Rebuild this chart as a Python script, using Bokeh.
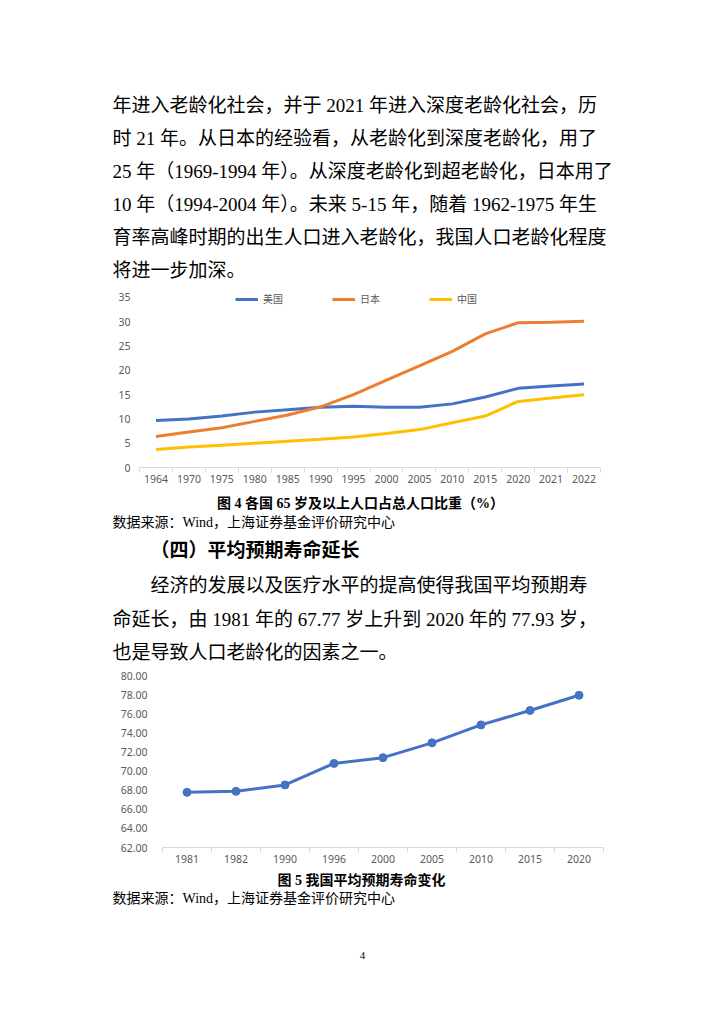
from bokeh.plotting import figure
from bokeh.models import Range1d, FixedTicker, Legend, LegendItem, NumeralTickFormatter
from bokeh.core.properties import value
from bokeh.embed import file_html
from bokeh.resources import INLINE

# ---------------- data ----------------
para1 = [
    "年进入老龄化社会，并于 2021 年进入深度老龄化社会，历",
    "时 21 年。从日本的经验看，从老龄化到深度老龄化，用了",
    "25 年（1969-1994 年）。从深度老龄化到超老龄化，日本用了",
    "10 年（1994-2004 年）。未来 5-15 年，随着 1962-1975 年生",
    "育率高峰时期的出生人口进入老龄化，我国人口老龄化程度",
    "将进一步加深。",
]
caption1 = "图 4 各国 65 岁及以上人口占总人口比重（%）"
source_text = "数据来源：Wind，上海证券基金评价研究中心"
heading = "（四）平均预期寿命延长"
para2 = [
    "经济的发展以及医疗水平的提高使得我国平均预期寿",
    "命延长，由 1981 年的 67.77 岁上升到 2020 年的 77.93 岁，",
    "也是导致人口老龄化的因素之一。",
]
caption2 = "图 5 我国平均预期寿命变化"
page_no = "4"

years1 = ["1964", "1970", "1975", "1980", "1985", "1990", "1995", "2000",
          "2005", "2010", "2015", "2020", "2021", "2022"]
us = [9.7, 10.0, 10.6, 11.4, 11.9, 12.4, 12.6, 12.4, 12.4, 13.1, 14.5, 16.3, 16.8, 17.2]
japan = [6.4, 7.3, 8.2, 9.5, 10.8, 12.5, 15.0, 18.0, 20.9, 23.9, 27.5, 29.8, 29.9, 30.1]
china = [3.7, 4.2, 4.6, 5.0, 5.4, 5.8, 6.3, 7.0, 7.8, 9.2, 10.6, 13.6, 14.3, 15.0]
series_names = ["美国", "日本", "中国"]
y1_ticks = [0, 5, 10, 15, 20, 25, 30, 35]

years2 = ["1981", "1982", "1990", "1996", "2000", "2005", "2010", "2015", "2020"]
life = [67.77, 67.88, 68.55, 70.80, 71.40, 72.95, 74.83, 76.34, 77.93]
y2_ticks = [62, 64, 66, 68, 70, 72, 74, 76, 78, 80]

# ---------------- styles ----------------
W = 724
BODY_FONT = "Liberation Serif, Noto Sans CJK SC"
TICK_FONT = "Noto Sans, Noto Sans CJK SC"
GRAY = "#595959"
AXIS_GRAY = "#D9D9D9"
COLORS = ["#4472C4", "#ED7D31", "#FFC000"]


def text_fig(h):
    p = figure(width=W, height=h, x_range=Range1d(0, W), y_range=Range1d(h, 0),
               x_axis_location=None, y_axis_location=None, min_border=0,
               min_border_left=0, min_border_right=0, min_border_top=0, min_border_bottom=0,
               outline_line_color=None, toolbar_location=None, output_backend="svg")
    p.grid.visible = False
    return p


def add_text(p, xs, ys, texts, size, bold=False, align="left", font=BODY_FONT, color="black"):
    p.text(x=xs, y=ys, text=texts, text_font=value(font), text_font_size=value(size),
           text_font_style="bold" if bold else "normal", text_align=align,
           text_baseline="middle", text_color=color)


def style_axes(p, y_standoff):
    p.grid.visible = False
    xa = p.xaxis[0]
    xa.axis_line_color = AXIS_GRAY
    xa.major_tick_out = 0
    xa.major_tick_in = 0
    xa.minor_tick_out = 5
    xa.minor_tick_in = 0
    xa.minor_tick_line_color = AXIS_GRAY
    xa.major_label_standoff = 2
    xa.major_label_text_color = GRAY
    xa.major_label_text_font = TICK_FONT
    xa.major_label_text_font_size = "10.5px"
    ya = p.yaxis[0]
    ya.axis_line_color = None
    ya.major_tick_line_color = None
    ya.minor_tick_line_color = None
    ya.major_tick_out = 0
    ya.major_label_standoff = y_standoff
    ya.major_label_text_color = GRAY
    ya.major_label_text_font = TICK_FONT
    ya.major_label_text_font_size = "10.5px"


# ---------------- top text ----------------
hA = 285
pA = text_fig(hA)
add_text(pA, [112] * len(para1), [105 + 33 * i for i in range(len(para1))], para1, "19px")

# ---------------- chart 1 ----------------
n1 = len(years1)
x1 = [i + 0.5 for i in range(n1)]
p1 = figure(width=W, height=205, x_range=Range1d(0, n1), y_range=Range1d(0, 36.44),
            min_border_left=139, min_border_right=124, min_border_top=5, min_border_bottom=23,
            outline_line_color=None, toolbar_location=None, output_backend="svg")
style_axes(p1, 9)
p1.xaxis[0].ticker = FixedTicker(ticks=x1, minor_ticks=list(range(n1 + 1)))
p1.xaxis[0].major_label_overrides = {x: y for x, y in zip(x1, years1)}
p1.yaxis[0].ticker = FixedTicker(ticks=y1_ticks)

items = []
for name, vals, c in zip(series_names, [us, japan, china], COLORS):
    r = p1.line(x1, vals, line_color=c, line_width=3)
    items.append(LegendItem(label=name, renderers=[r]))
leg = Legend(items=items, orientation="horizontal", location=(96, 161),
             padding=0, margin=0, spacing=49, glyph_width=23, glyph_height=12,
             label_height=12, label_standoff=5, label_text_font=TICK_FONT,
             label_text_font_size="10px", label_text_color=GRAY,
             border_line_color=None, background_fill_alpha=0)
p1.add_layout(leg)

# ---------------- middle text ----------------
hC = 172
pC = text_fig(hC)
add_text(pC, [360], [13], [caption1], "14px", bold=True, align="center")
add_text(pC, [112], [32], [source_text], "14px")
add_text(pC, [150], [60], [heading], "19px", bold=True)
add_text(pC, [150, 112, 112], [95, 129, 162], para2, "19px")

# ---------------- chart 2 ----------------
n2 = len(years2)
x2 = [i + 0.5 for i in range(n2)]
p2 = figure(width=W, height=208, x_range=Range1d(0, n2), y_range=Range1d(62, 80),
            min_border_left=162, min_border_right=121, min_border_top=13, min_border_bottom=23,
            outline_line_color=None, toolbar_location=None, output_backend="svg")
style_axes(p2, 15)
p2.xaxis[0].ticker = FixedTicker(ticks=x2, minor_ticks=list(range(n2 + 1)))
p2.xaxis[0].major_label_overrides = {x: y for x, y in zip(x2, years2)}
p2.yaxis[0].ticker = FixedTicker(ticks=y2_ticks)
p2.yaxis[0].formatter = NumeralTickFormatter(format="0.00")
p2.line(x2, life, line_color=COLORS[0], line_width=3)
p2.scatter(x2, life, size=8, fill_color=COLORS[0], line_color=COLORS[0])

# ---------------- bottom text ----------------
hE = 154
pE = text_fig(hE)
add_text(pE, [361], [10], [caption2], "14px", bold=True, align="center")
add_text(pE, [112], [28], [source_text], "14px")
add_text(pE, [362], [85], [page_no], "11px", align="center")

open("out.html", "w").write(file_html([pA, p1, pC, p2, pE], INLINE))
